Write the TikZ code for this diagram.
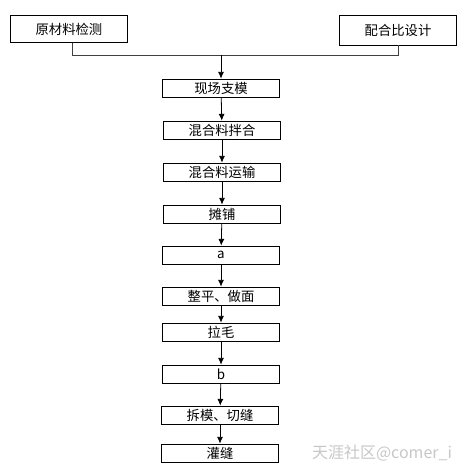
\documentclass[tikz,border=0pt]{standalone}
\usepackage{fontspec}
\setmainfont{Liberation Sans}
\newfontfamily\cjk{Noto Sans CJK SC}
\usetikzlibrary{arrows.meta}
\begin{document}
\begin{tikzpicture}[x=0.75pt, y=-0.75pt, line width=0.6pt,
	step box/.style = {draw, rectangle, minimum width=87.5pt, minimum height=13.5pt, inner sep=0pt, font=\cjk\normalsize},
	top box/.style = {draw, rectangle, minimum width=88pt, minimum height=20.5pt, inner sep=0pt, font=\cjk\normalsize},
	flow/.style = {-{Latex[length=5pt,width=4.5pt]}}]
	\useasboundingbox (0,0) rectangle (468,472);
	\node (raw)       at ( 69,  29)	[top box]	{原材料检测};
	\node (ratio)     at (398,  30)	[top box, minimum height=22.5pt]	{配合比设计};
	\coordinate (join) at (221, 55);
	\node (formwork)  at (221,  88)	[step box]	{现场支模};
	\node (mixing)    at (222, 130)	[step box]	{混合料拌合};
	\node (transport) at (222, 172)	[step box]	{混合料运输};
	\node (spread)    at (222, 214)	[step box]	{摊铺};
	\node (a)         at (221, 255)	[step box]	{a};
	\node (level)     at (221, 296)	[step box]	{整平、做面};
	\node (texture)   at (221, 332)	[step box]	{拉毛};
	\node (b)         at (221, 374)	[step box]	{b};
	\node (cut)       at (220, 415)	[step box]	{拆模、切缝};
	\node (fill)      at (220, 453)	[step box]	{灌缝};
	\draw[black!75] ([xshift=2.5pt]raw.south) -- ([xshift=2.5pt]raw.south |- join) -- (ratio.south |- join) -- (ratio.south);
	\draw[flow] (join) -- (formwork);
	\draw[flow] (formwork) -- (mixing);
	\draw[flow] (mixing) -- (transport);
	\draw[flow] (transport) -- (spread);
	\draw[flow] (spread) -- (a);
	\draw[flow] (a) -- (level);
	\draw[flow] (level) -- (texture);
	\draw[flow] (texture) -- (b);
	\draw[flow] (b) -- (cut);
	\draw[flow] (cut) -- (fill);
	\node (mark) at (382, 453) [text=black!22, font=\cjk\large] {天涯社区@comer\_i};
\end{tikzpicture}
\end{document}
